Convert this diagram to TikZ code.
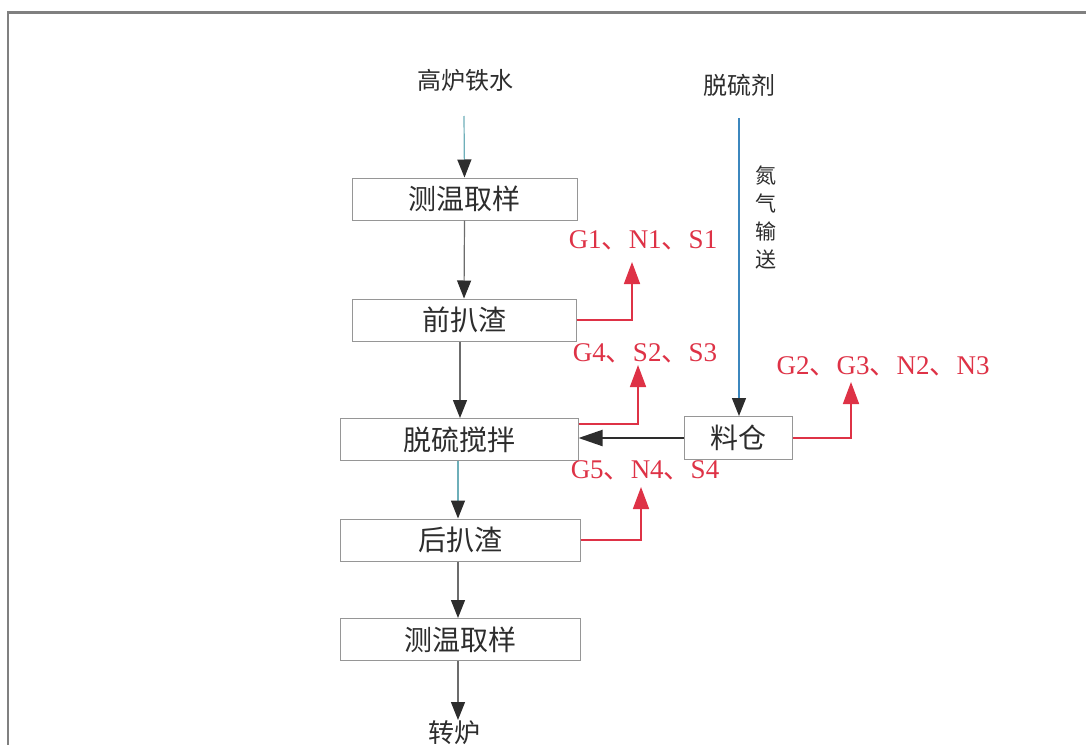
\documentclass[tikz,border=0pt]{standalone}
\usepackage{fontspec}
\setmainfont{Liberation Serif}
\newfontfamily\cjk{Noto Sans CJK SC}
\usetikzlibrary{arrows.meta}
\definecolor{redl}{RGB}{222,50,70}
\definecolor{bluel}{RGB}{60,135,190}
\definecolor{teall}{RGB}{110,175,185}
\definecolor{boxg}{RGB}{150,150,150}
\definecolor{txt}{RGB}{45,45,45}
\tikzset{
  procbox/.style={draw=boxg, line width=1pt, minimum height=42pt, inner sep=0pt, font=\cjk\fontsize{28}{28}\selectfont, text=txt},
  plain/.style={font=\cjk\fontsize{24}{24}\selectfont, text=txt, inner sep=0pt},
  emis/.style={font=\fontsize{27}{27}\selectfont, text=redl, inner sep=0pt},
  flow/.style={draw=txt!70, line width=1.2pt, -{Triangle[width=14pt,length=18pt,color=txt]}},
  redflow/.style={draw=redl, line width=1.6pt, -{Triangle[width=16pt,length=22pt]}},
}
\newcommand{\dn}{{\cjk 、}}
\begin{document}
\begin{tikzpicture}[x=1pt,y=-1pt]
\useasboundingbox (0,0) rectangle (1086,744);
\fill[white] (0,0) rectangle (1086,744);
% frame
\draw[gray, line width=2.5pt] (8,760) -- (8,12.5) -- (1100,12.5);

% nodes
\node[plain] (src) at (465,80) {高炉铁水};
\node[plain] (agent) at (739,85) {脱硫剂};
\node[procbox, minimum width=225pt] (b1) at (464.5,199) {测温取样};
\node[procbox, minimum width=224pt] (b2) at (464,320) {前扒渣};
\node[procbox, minimum width=238pt] (b3) at (459,439.5) {脱硫搅拌};
\node[procbox, minimum width=240pt] (b4) at (460,540) {后扒渣};
\node[procbox, minimum width=240pt] (b5) at (460,639.5) {测温取样};
\node[procbox, minimum width=108pt, minimum height=43pt] (bin) at (738,438) {料仓};
\node[plain, anchor=north, font=\cjk\fontsize{26}{26}\selectfont] (conv) at (454,720) {转炉};
\node[plain, align=center, font=\cjk\fontsize{21}{28}\selectfont] (n2) at (766,218) {氮\\气\\输\\送};

\node[emis] (e1) at (643,240) {G1\dn N1\dn S1};
\node[emis] (e2) at (645,353) {G4\dn S2\dn S3};
\node[emis] (e3) at (645,470) {G5\dn N4\dn S4};
\node[emis] (e4) at (883,366) {G2\dn G3\dn N2\dn N3};

% flows
\coordinate (s0) at (464,116);
\draw[flow, draw=teall] (s0) -- (b1.north);
\draw[flow] (b1.south) -- (b2.north);
\draw[flow] (b2.south -| 460,0) -- (b3.north -| 460,0);
\draw[flow, draw=teall] (b3.south -| 458,0) -- (b4.north -| 458,0);
\draw[flow] (b4.south -| 458,0) -- (b5.north -| 458,0);
\draw[flow] (b5.south -| 458,0) -- (conv.north -| 458,0);

\coordinate (a0) at (739,118);
\draw[flow, draw=bluel] (a0) -- (bin.north -| 739,0);
\draw[draw=txt, line width=2pt, -{Triangle[width=16pt,length=24pt]}] (bin.west) -- (b3.east |- bin.west);

% red emission arrows
\draw[redflow] (b2.east) -- (b2.east -| 632,0) -- (632,262);
\draw[redflow] (b3.east |- 0,424) -- (638,424) -- (638,365);
\draw[redflow] (b4.east) -- (b4.east -| 641,0) -- (641,487);
\draw[redflow] (bin.east) -- (bin.east -| 851,0) -- (851,382);
\end{tikzpicture}
\end{document}
